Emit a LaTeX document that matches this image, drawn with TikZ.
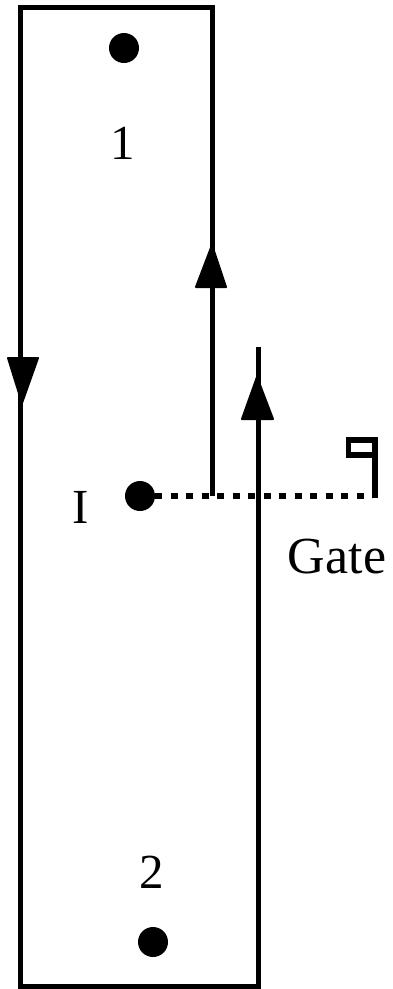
\documentclass[tikz,border=0pt]{standalone}
\usepackage{fontspec}
\setmainfont{Liberation Serif}
\begin{document}
\begin{tikzpicture}[x=1pt,y=-1pt,
  wire/.style={line width=5pt,line cap=butt,line join=miter},
  flagwire/.style={line width=5.5pt,line cap=butt,line join=miter},
  gateline/.style={line width=5.5pt,dash pattern=on 7pt off 8.5pt},
  dot/.style={circle,fill=black,inner sep=0pt,minimum size=30pt},
  lab/.style={inner sep=0pt,font=\fontsize{49}{49}\selectfont},
  head/.style={fill=black,draw=black,line width=2pt,line join=round}]
\useasboundingbox (0,0) rectangle (393,989);
\node[dot] (d1) at (124,48) {};
\node[dot] (dI) at (140,496) {};
\node[dot] (d2) at (153,942) {};
\node[lab] (l1) at (123,143) {1};
\node[lab] (lI) at (81,507) {I};
\node[lab] (l2) at (152,872) {2};
\node[lab,font=\fontsize{52}{52}\selectfont] (lg) at (337,557) {Gate};
\coordinate (a) at (212,496);
\coordinate (b) at (212,7);
\coordinate (c) at (20,7);
\coordinate (e) at (20,986);
\coordinate (f) at (258,986);
\coordinate (g) at (258,347);
\coordinate (p0) at (155,496);
\coordinate (p1) at (372,496);
\coordinate (p) at (375,498);
\coordinate (q) at (375,440);
\coordinate (r) at (348.5,440);
\coordinate (s) at (348.5,455);
\coordinate (t) at (375,455);
\draw[wire] (a) -- (b) -- (c) -- (e) -- (f) -- (g);
\draw[gateline] (p0) -- (p1);
\draw[flagwire] (p) -- (q) -- (r) -- (s) -- (t);
\fill[head] (212,245) -- (196,287) -- (226,287) -- cycle;
\fill[head] (257,377) -- (242,419) -- (273,419) -- cycle;
\fill[head] (22,403) -- (8,358) -- (38,358) -- cycle;
\end{tikzpicture}
\end{document}
